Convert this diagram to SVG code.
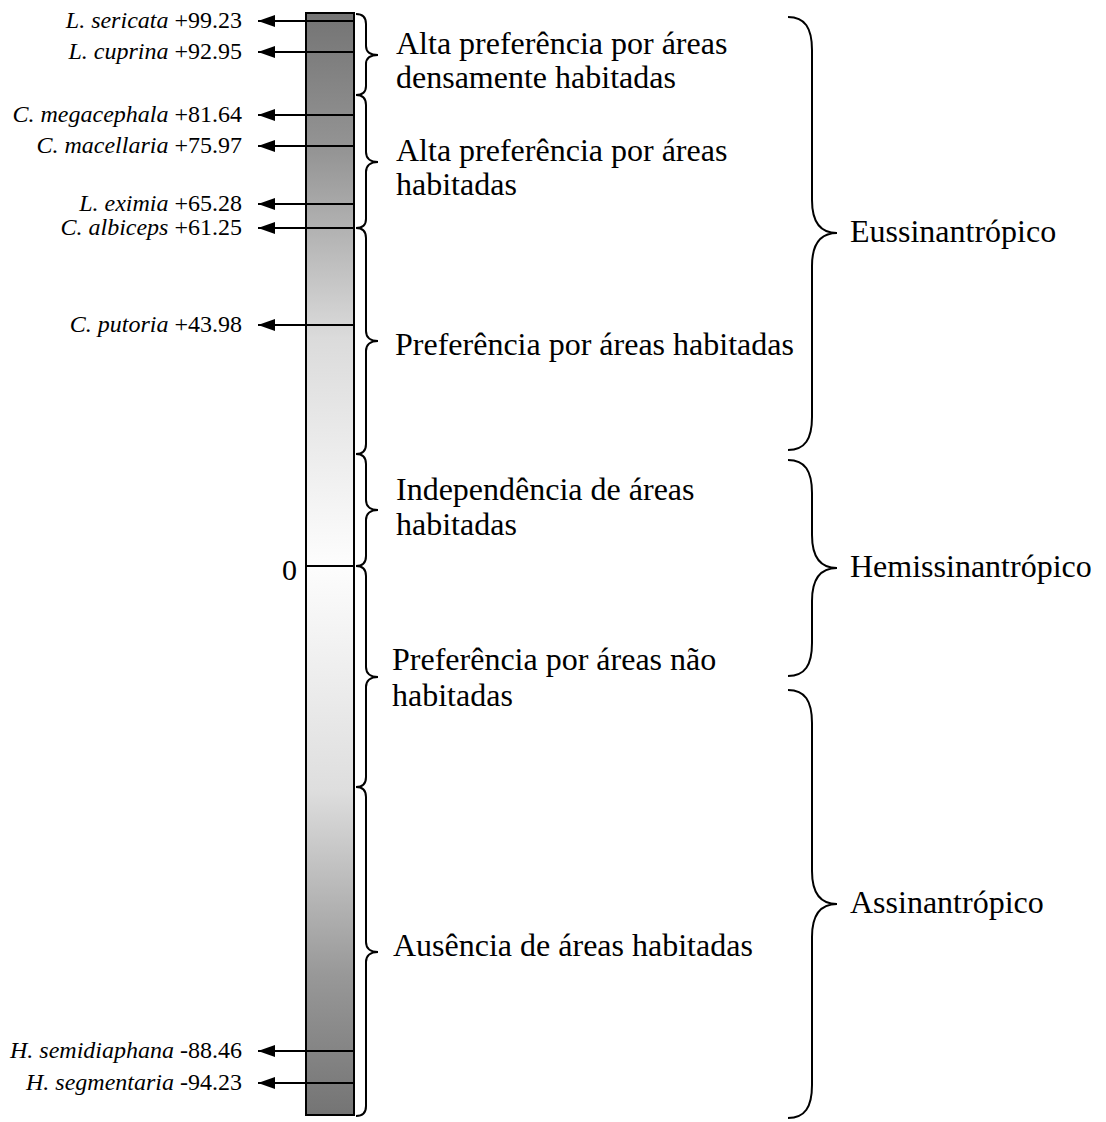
<svg xmlns="http://www.w3.org/2000/svg" width="1106" height="1122" viewBox="0 0 1106 1122">
<style>
.sp{font-family:"Liberation Serif","Times New Roman",serif;font-size:24px;fill:#000;text-anchor:end}
.sp tspan.i{font-style:italic}
.lb{font-family:"Liberation Serif","Times New Roman",serif;font-size:32px;fill:#000}
.ln{stroke:#000;stroke-width:2;fill:none}
.br{stroke:#000;stroke-width:2;fill:none}
</style>
<defs>
<linearGradient id="g" x1="0" y1="0" x2="0" y2="1">
<stop offset="0" stop-color="#747474"/>
<stop offset="0.127" stop-color="#959595"/>
<stop offset="0.295" stop-color="#dbdbdb"/>
<stop offset="0.5" stop-color="#fdfdfd"/>
<stop offset="0.705" stop-color="#dedede"/>
<stop offset="0.873" stop-color="#989898"/>
<stop offset="1" stop-color="#747474"/>
</linearGradient>
<marker id="ah" viewBox="0 0 17 12" refX="0" refY="6" markerWidth="17" markerHeight="12" markerUnits="userSpaceOnUse" orient="auto">
<path d="M0,6 L17,0 L17,12 Z" fill="#000"/>
</marker>
</defs>
<g id="bar">
<rect x="306" y="13" width="48" height="1102" fill="url(#g)" stroke="#000" stroke-width="2"/>
<line class="ln" x1="306" y1="566" x2="354" y2="566"/>
<text class="lb" x="282" y="580" style="font-size:30px">0</text>
</g>
<g id="connectors">
<path class="ln" d="M258,21 H354" marker-start="url(#ah)"/>
<path class="ln" d="M258,52 H354" marker-start="url(#ah)"/>
<path class="ln" d="M258,115 H354" marker-start="url(#ah)"/>
<path class="ln" d="M258,146 H354" marker-start="url(#ah)"/>
<path class="ln" d="M258,204 H354" marker-start="url(#ah)"/>
<path class="ln" d="M258,228 H354" marker-start="url(#ah)"/>
<path class="ln" d="M258,325 H354" marker-start="url(#ah)"/>
<path class="ln" d="M258,1051 H354" marker-start="url(#ah)"/>
<path class="ln" d="M258,1083 H354" marker-start="url(#ah)"/>
</g>
<g id="species">
<text class="sp" x="242" y="28"><tspan class="i">L. sericata</tspan> +99.23</text>
<text class="sp" x="242" y="59"><tspan class="i">L. cuprina</tspan> +92.95</text>
<text class="sp" x="242" y="122"><tspan class="i">C. megacephala</tspan> +81.64</text>
<text class="sp" x="242" y="153"><tspan class="i">C. macellaria</tspan> +75.97</text>
<text class="sp" x="242" y="211"><tspan class="i">L. eximia</tspan> +65.28</text>
<text class="sp" x="242" y="235"><tspan class="i">C. albiceps</tspan> +61.25</text>
<text class="sp" x="242" y="332"><tspan class="i">C. putoria</tspan> +43.98</text>
<text class="sp" x="242" y="1058"><tspan class="i">H. semidiaphana</tspan> -88.46</text>
<text class="sp" x="242" y="1090"><tspan class="i">H. segmentaria</tspan> -94.23</text>
</g>
<g id="b1">
<path class="br" d="M356,14 C363,14 366,17 366,24 L366,46 C366,52 370,55 378,55 C370,55 366,58 366,64 L366,86 C366,92 363,95 356,95"/>
<text class="lb" x="396" y="54">Alta preferência por áreas</text>
<text class="lb" x="396" y="88">densamente habitadas</text>
</g>
<g id="b2">
<path class="br" d="M356,95 C363,95 366,98 366,105 L366,152 C366,158 370,162 378,162 C370,162 366,166 366,172 L366,219 C366,225 363,228 356,228"/>
<text class="lb" x="396" y="161">Alta preferência por áreas</text>
<text class="lb" x="396" y="195">habitadas</text>
</g>
<g id="b3">
<path class="br" d="M356,228 C363,228 366,231 366,238 L366,331 C366,337 370,341 378,341 C370,341 366,345 366,351 L366,444 C366,450 363,454 356,454"/>
<text class="lb" x="395" y="355">Preferência por áreas habitadas</text>
</g>
<g id="b4">
<path class="br" d="M356,454 C363,454 366,457 366,464 L366,500 C366,506 370,510 378,510 C370,510 366,514 366,520 L366,556 C366,562 363,566 356,566"/>
<text class="lb" x="396" y="500">Independência de áreas</text>
<text class="lb" x="396" y="535">habitadas</text>
</g>
<g id="b5">
<path class="br" d="M356,566 C363,566 366,569 366,576 L366,667 C366,673 370,677 378,677 C370,677 366,681 366,687 L366,777 C366,783 363,787 356,787"/>
<text class="lb" x="392" y="670">Preferência por áreas não</text>
<text class="lb" x="392" y="706">habitadas</text>
</g>
<g id="b6">
<path class="br" d="M356,787 C363,787 366,790 366,797 L366,942 C366,948 370,952 378,952 C370,952 366,956 366,962 L366,1106 C366,1112 363,1116 356,1116"/>
<text class="lb" x="393" y="956">Ausência de áreas habitadas</text>
</g>
<g id="eussin">
<path class="br" d="M788,17 C805,17 812,28 812,50 L812,200 C812,222 820,233 837,233 C820,233 812,244 812,266 L812,417 C812,439 805,450 788,450"/>
<text class="lb" x="850" y="242">Eussinantrópico</text>
</g>
<g id="hemis">
<path class="br" d="M788,460 C805,460 812,471 812,493 L812,535 C812,557 820,568 837,568 C820,568 812,579 812,601 L812,643 C812,665 805,676 788,676"/>
<text class="lb" x="850" y="577">Hemissinantrópico</text>
</g>
<g id="assin">
<path class="br" d="M788,690 C805,690 812,701 812,723 L812,871 C812,893 820,904 837,904 C820,904 812,915 812,937 L812,1085 C812,1107 805,1118 788,1118"/>
<text class="lb" x="850" y="913">Assinantrópico</text>
</g>
</svg>
